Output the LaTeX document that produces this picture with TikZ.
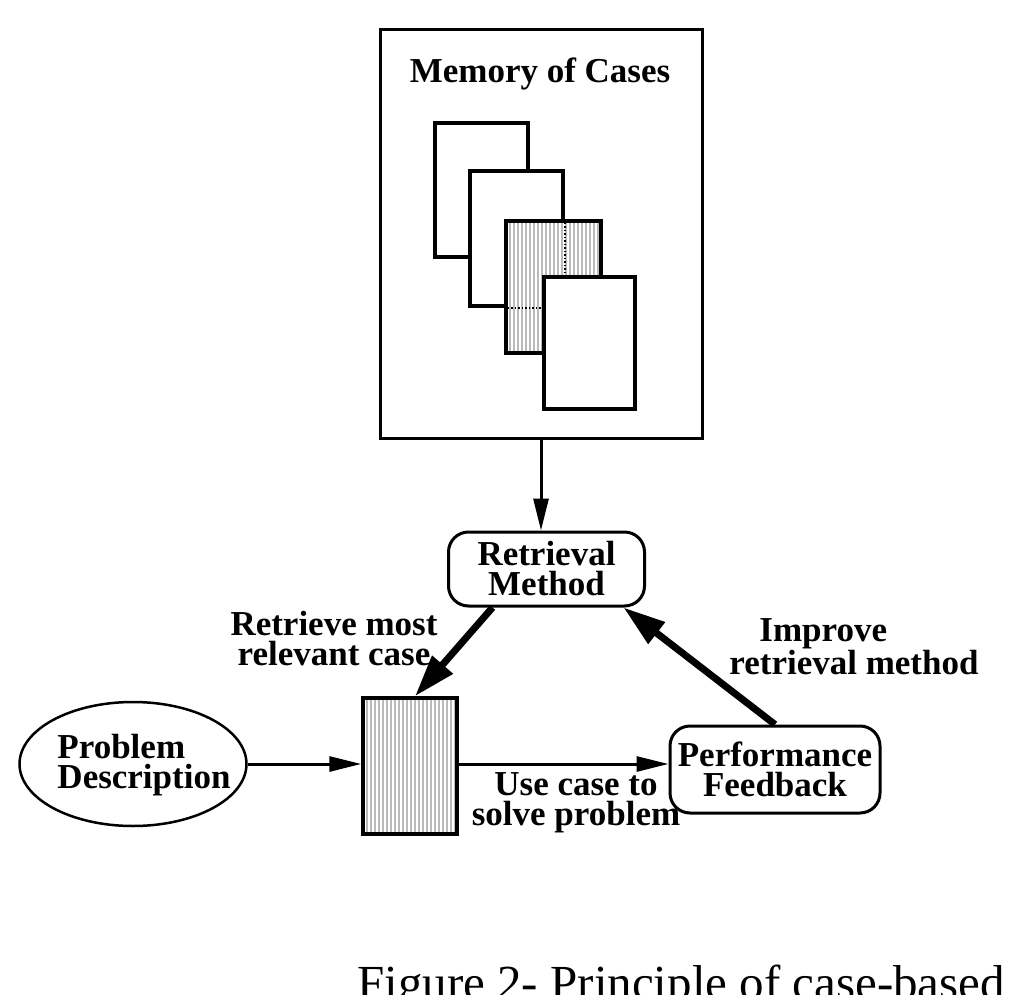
\documentclass[tikz,border=0pt]{standalone}
\usepackage{fontspec}
\setmainfont{Liberation Serif}
\usetikzlibrary{arrows.meta,shapes.geometric}
\newcommand\diagfont{\fontsize{35}{30}\selectfont\bfseries}
\tikzset{
  striped/.style={fill=black!27,path picture={
    \foreach \sx in {2,6,...,130}
      \draw[white,line width=1.1pt] ([xshift=\sx pt]path picture bounding box.north west) -- ([xshift=\sx pt]path picture bounding box.south west);
  }},
  card/.style={draw,fill=white,line width=3.5pt,inner sep=0pt},
  rbox/.style={draw,rounded corners=20pt,line width=3pt,inner sep=0pt,align=center,font=\diagfont},
  lbl/.style={font=\diagfont,inner sep=0pt},
  flowarrow/.style={line width=3pt,-{Triangle[length=32pt,width=15pt]}},
  bigarrow/.style={line width=7pt,-{Triangle[length=42pt,width=26pt]}},
}
\begin{document}
\begin{tikzpicture}[x=1pt,y=-1pt]
\useasboundingbox (0,0) rectangle (1020,995);
\node[draw,line width=3pt,minimum width=322pt,minimum height=408pt,inner sep=0pt] (mem) at (541,234) {};
\node[lbl,anchor=base] (memtitle) at (540,83) {Memory of Cases};
\coordinate (c4corner) at (542,275);
\node[card,minimum width=93pt,minimum height=134pt] (card1) at (481.5,190) {};
\node[card,minimum width=93pt,minimum height=135pt] (card2) at (516.5,238.5) {};
\node[card,striped,minimum width=95pt,minimum height=132pt] (card3) at (553.5,287) {};
\draw[line width=2pt,dash pattern=on 1.5pt off 2pt] (card2.north east |- card3.north) -- (card2.east |- c4corner);
\draw[line width=2pt,dash pattern=on 1.5pt off 2pt] (card3.west |- card2.south) -- (card2.south -| c4corner);
\node[card,anchor=north west,minimum width=91pt,minimum height=132pt] (card4) at (c4corner) {};
\node[rbox,minimum width=196pt,minimum height=74pt] (rm) at (546.5,569) {Retrieval\\Method};
\node[card,striped,minimum width=94pt,minimum height=136pt] (cb) at (410,766) {};
\node[rbox,minimum width=210pt,minimum height=87pt] (pf) at (775,769.5) {Performance\\Feedback};
\node[draw,ellipse,line width=2.5pt,minimum width=227pt,minimum height=124pt] (pd) at (133,764) {};
\node[lbl,align=left] (pdtext) at (144,765) {Problem\\Description};
\node[lbl,align=center] (retlbl) at (334,639) {Retrieve most\\relevant case};
\node[lbl,align=left] (implbl) at (854,646.5) {\hspace*{30pt}Improve\\retrieval method};
\node[lbl,align=center] (uselbl) at (576,802.5) {Use case to\\solve problem};
\node[anchor=base west,inner sep=0pt,font=\fontsize{49}{55}\selectfont] (caption) at (357,999) {Figure 2- Principle of case-based};
\draw[flowarrow] (mem.south) -- (mem.south |- rm.north);
\draw[bigarrow] ([xshift=-54pt]rm.south) -- ([xshift=5pt]cb.north);
\draw[bigarrow] (pf.north) -- ([xshift=77pt]rm.south);
\draw[flowarrow] (pd.east) -- (pd.east -| cb.west);
\draw[flowarrow] (cb.east |- pd.east) -- (pf.west |- pd.east);
\end{tikzpicture}
\end{document}
